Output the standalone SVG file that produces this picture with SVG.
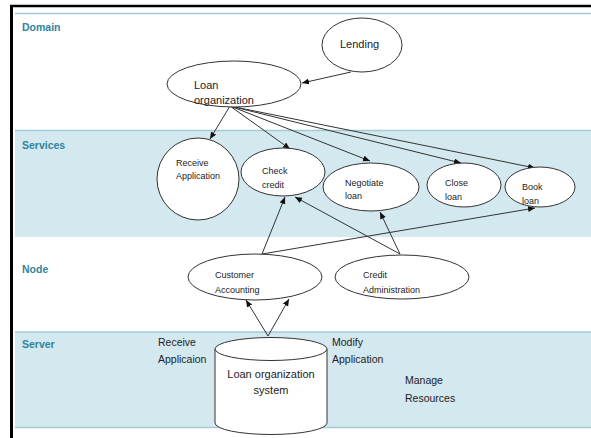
<svg xmlns="http://www.w3.org/2000/svg" width="591" height="438" viewBox="0 0 591 438">
  <style>
    .band-blue { fill: #D3E8EF; }
    .band-line { stroke: #A3CAD6; stroke-width: 1.5; }
    .lane { font-family: "Liberation Sans", Arial, sans-serif; font-size: 10.5px; font-weight: bold; fill: #31849B; }
    .shape { fill: #FFFFFF; stroke: #333333; stroke-width: 1; }
    .lbl { font-family: "Liberation Sans", Arial, sans-serif; font-size: 9px; fill: #222222; }
    .lbl-lg { font-family: "Liberation Sans", Arial, sans-serif; font-size: 11px; fill: #222222; }
    .note { font-family: "Liberation Sans", Arial, sans-serif; font-size: 10.5px; fill: #222222; }
    .edge { stroke: #333333; stroke-width: 1; fill: none; marker-end: url(#arrow); }
  </style>
  <defs>
    <marker id="arrow" markerUnits="userSpaceOnUse" markerWidth="8" markerHeight="8" refX="7" refY="3" orient="auto">
      <path d="M0,0 L7,3 L0,6 Z" fill="#111111"/>
    </marker>
  </defs>

  <rect x="0" y="0" width="591" height="438" fill="#FFFFFF"/>

  <!-- swimlanes -->
  <g id="lanes">
    <rect class="band-blue" x="15" y="130" width="576" height="107"/>
    <rect class="band-blue" x="15" y="332" width="576" height="96"/>
    <line class="band-line" x1="15" y1="13.5" x2="591" y2="13.5"/>
    <line class="band-line" x1="15" y1="130.5" x2="591" y2="130.5"/>
    <line class="band-line" x1="15" y1="332" x2="591" y2="332" stroke-width="0.8"/>
    <line class="band-line" x1="15" y1="427.5" x2="591" y2="427.5"/>
    <text class="lane" x="22" y="31">Domain</text>
    <text class="lane" x="22" y="149">Services</text>
    <text class="lane" x="22" y="273">Node</text>
    <text class="lane" x="22" y="348">Server</text>
  </g>

  <!-- outer frame (top and left edges) -->
  <g id="frame">
    <line x1="10" y1="6" x2="591" y2="6" stroke="#000000" stroke-width="2.5"/>
    <line x1="11.5" y1="5" x2="11.5" y2="438" stroke="#000000" stroke-width="3"/>
  </g>

  <!-- connectors -->
  <g id="connectors">
    <line class="edge" x1="351" y1="72" x2="302" y2="83"/>
    <line class="edge" x1="230" y1="106" x2="210" y2="139"/>
    <line class="edge" x1="230" y1="106" x2="290" y2="149"/>
    <line class="edge" x1="230" y1="106" x2="370" y2="161"/>
    <line class="edge" x1="230" y1="106" x2="461" y2="163"/>
    <line class="edge" x1="230" y1="106" x2="535" y2="168"/>
    <line class="edge" x1="262" y1="254" x2="285" y2="197"/>
    <line class="edge" x1="262" y1="254" x2="535" y2="208"/>
    <line class="edge" x1="400" y1="254" x2="295" y2="197"/>
    <line class="edge" x1="400" y1="254" x2="380" y2="212"/>
    <line class="edge" x1="268" y1="336" x2="246" y2="300"/>
    <line class="edge" x1="268" y1="336" x2="289" y2="299"/>
  </g>

  <g id="lending">
    <ellipse class="shape" cx="362" cy="45" rx="40" ry="27"/>
    <text class="lbl-lg" x="340" y="48">Lending</text>
  </g>

  <g id="loan-organization">
    <ellipse class="shape" cx="234" cy="84" rx="67" ry="23"/>
    <text class="lbl-lg" x="194" y="89">Loan</text>
    <text class="lbl-lg" x="194" y="104">organization</text>
  </g>

  <g id="receive-application">
    <ellipse class="shape" cx="198" cy="179" rx="41" ry="41"/>
    <text class="lbl" x="176" y="166">Receive</text>
    <text class="lbl" x="176" y="179">Application</text>
  </g>

  <g id="check-credit">
    <ellipse class="shape" cx="283" cy="172" rx="42" ry="24"/>
    <text class="lbl" x="262" y="174">Check</text>
    <text class="lbl" x="262" y="188">credit</text>
  </g>

  <g id="negotiate-loan">
    <ellipse class="shape" cx="371" cy="187" rx="48" ry="24"/>
    <text class="lbl" x="345" y="186">Negotiate</text>
    <text class="lbl" x="345" y="199">loan</text>
  </g>

  <g id="close-loan">
    <ellipse class="shape" cx="464" cy="185" rx="37" ry="22"/>
    <text class="lbl" x="445" y="186">Close</text>
    <text class="lbl" x="445" y="200">loan</text>
  </g>

  <g id="book-loan">
    <ellipse class="shape" cx="540" cy="187" rx="35" ry="20"/>
    <text class="lbl" x="522" y="190">Book</text>
    <text class="lbl" x="522" y="204">loan</text>
  </g>

  <g id="customer-accounting">
    <ellipse class="shape" cx="255" cy="277" rx="67" ry="23"/>
    <text class="lbl" x="215" y="278">Customer</text>
    <text class="lbl" x="215" y="293">Accounting</text>
  </g>

  <g id="credit-administration">
    <ellipse class="shape" cx="402" cy="277" rx="67" ry="22"/>
    <text class="lbl" x="363" y="278">Credit</text>
    <text class="lbl" x="363" y="293">Administration</text>
  </g>

  <g id="loan-organization-system">
    <path class="shape" d="M215,349 L215,423 A56,11.5 0 0 0 327,423 L327,349"/>
    <ellipse class="shape" cx="271" cy="349" rx="56" ry="11.5"/>
    <text class="lbl-lg" x="271" y="378" text-anchor="middle">Loan organization</text>
    <text class="lbl-lg" x="271" y="394" text-anchor="middle">system</text>
  </g>

  <!-- server operations -->
  <g id="server-notes">
    <text class="note" x="158" y="346">Receive</text>
    <text class="note" x="158" y="363">Applicaion</text>
    <text class="note" x="332" y="346">Modify</text>
    <text class="note" x="332" y="363">Application</text>
    <text class="note" x="405" y="384">Manage</text>
    <text class="note" x="405" y="402">Resources</text>
  </g>
</svg>
